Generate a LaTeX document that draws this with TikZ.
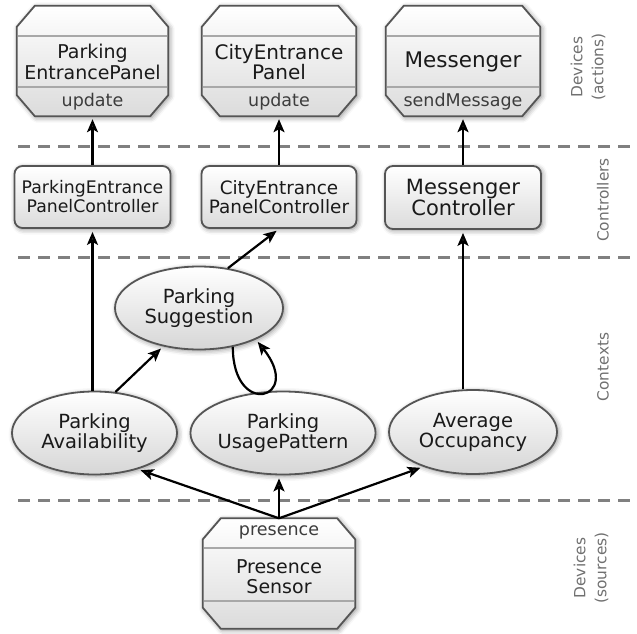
\documentclass[tikz,border=0pt]{standalone}
\usepackage{fontspec}
\setmainfont{DejaVu Sans}
\usetikzlibrary{shapes.geometric,arrows.meta,calc,shadows.blur}
\definecolor{bord}{HTML}{555555}
\definecolor{sepc}{HTML}{A8A8A8}
\definecolor{dashc}{HTML}{808080}
\definecolor{labc}{HTML}{707070}
\definecolor{txtc}{HTML}{1A1A1A}
\tikzset{
  softshadow/.style={blur shadow={shadow xshift=1.5pt, shadow yshift=-1.5pt, shadow blur radius=5pt, shadow opacity=45}},
  shadebox/.style={top color=white, bottom color=black!14, draw=bord, line width=1.8pt, softshadow},
  devnode/.style={inner sep=0pt, minimum width=#1, minimum height=110pt},
  devtitle/.style={inner sep=0pt, text=txtc, align=center, font=\fontsize{19}{20.5}\selectfont},
  devop/.style={inner sep=0pt, text=txtc!85, font=\fontsize{17.5}{18}\selectfont},
  sepline/.style={draw=sepc, line width=1.2pt},
  ctrl/.style={rectangle, rounded corners=8pt, draw=bord, line width=1.8pt, top color=white, bottom color=black!14,
     minimum height=62pt, inner sep=0pt, align=center, text=txtc, softshadow},
  ctx/.style={ellipse, draw=bord, line width=1.8pt, top color=white, bottom color=black!16,
     minimum height=83pt, inner sep=0pt, align=center, text=txtc, font=\fontsize{19.5}{20}\selectfont, softshadow},
  layer/.style={draw=dashc, line width=3pt, dash pattern=on 12pt off 8pt},
  side/.style={rotate=90, text=labc, align=center, font=\fontsize{15.4}{21}\selectfont},
  arr/.style={line width=2.2pt, -{Stealth[length=13pt,width=11pt,inset=3pt]}, shorten >=3pt},
}
\newcommand\octpath[1]{($(#1.north west)+(18,0)$) -- ($(#1.north east)+(-18,0)$) -- ($(#1.north east)+(0,21)$) -- ($(#1.south east)+(0,-21)$) -- ($(#1.south east)+(-18,0)$) -- ($(#1.south west)+(18,0)$) -- ($(#1.south west)+(0,-21)$) -- ($(#1.north west)+(0,21)$) -- cycle}
\begin{document}
\begin{tikzpicture}[x=1pt,y=-1pt]
\useasboundingbox (0,0) rectangle (637,634);

% layer separators
\coordinate (d1a) at (18,146); \coordinate (d1b) at (637,146);
\coordinate (d2a) at (18,257); \coordinate (d2b) at (637,257);
\coordinate (d3a) at (18,500); \coordinate (d3b) at (637,500);
\draw[layer] (d1a) -- (d1b);
\draw[layer] (d2a) -- (d2b);
\draw[layer] (d3a) -- (d3b);

% device frames
\node[devnode=151pt] (pep) at (92.5,61) {};
\node[devnode=154pt] (cep) at (279,61) {};
\node[devnode=154pt] (msg) at (463,61) {};
\node[devnode=152pt] (pres) at (279,573.5) {};
\path[shadebox] \octpath{pep};
\path[shadebox] \octpath{cep};
\path[shadebox] \octpath{msg};
\path[shadebox] \octpath{pres};
\foreach \n in {pep,cep,msg}{
  \draw[sepline] ($(\n.west)+(0.9,-25)$) -- ($(\n.east)+(-0.9,-25)$);
  \draw[sepline] ($(\n.west)+(0.9,26)$) -- ($(\n.east)+(-0.9,26)$);
}
\draw[sepline] ($(pres.west)+(0.9,-25.5)$) -- ($(pres.east)+(-0.9,-25.5)$);
\draw[sepline] ($(pres.west)+(0.9,27.5)$) -- ($(pres.east)+(-0.9,27.5)$);

\node[devtitle] (pept) at ($(pep)+(0,1)$) {Parking\\EntrancePanel};
\node[devtitle, font=\fontsize{20}{20.5}\selectfont] (cept) at ($(cep)+(0,1)$) {CityEntrance\\Panel};
\node[devtitle, font=\fontsize{21.5}{22}\selectfont] (msgt) at ($(msg)+(0,1)$) {Messenger};
\node[devtitle] (prest) at ($(pres)+(0,3)$) {Presence\\Sensor};
\node[devop] (pepo) at ($(pep.south)+(0,-14.5)$) {update};
\node[devop] (cepo) at ($(cep.south)+(0,-14.5)$) {update};
\node[devop] (msgo) at ($(msg.south)+(0,-14.5)$) {sendMessage};
\node[devop] (preso) at ($(pres.north)+(0,14.5)$) {presence};

% controllers
\node[ctrl, minimum width=156pt, font=\fontsize{17.3}{19}\selectfont] (ppc) at (92.5,197) {ParkingEntrance\\PanelController};
\node[ctrl, minimum width=155pt, font=\fontsize{18.4}{19}\selectfont] (cpc) at (279,197) {CityEntrance\\PanelController};
\node[ctrl, minimum width=156pt, minimum height=63pt, font=\fontsize{21}{20.5}\selectfont] (mc) at (463,197.5) {Messenger\\Controller};

% contexts
\node[ctx, minimum width=168pt] (ps) at (199,308) {Parking\\Suggestion};
\node[ctx, minimum width=165pt] (pa) at (94.5,433) {Parking\\Availability};
\node[ctx, minimum width=167pt] (pup) at (283,433) {Parking\\UsagePattern};
\node[ctx, minimum width=168pt, minimum height=84pt] (ao) at (473,432) {Average\\Occupancy};

% side labels
\node[side] (l1) at (588,67) {Devices\\(actions)};
\node[side] (l2) at (603,200) {Controllers};
\node[side] (l3) at (603,367) {Contexts};
\node[side] (l4) at (591,568) {Devices\\(sources)};

% connectors
\draw[arr] (ppc.north) -- (pep.south);
\draw[arr] (cpc.north) -- (cep.south);
\draw[arr] (mc.north) -- (msg.south);
\draw[arr] (ppc.south |- pa.north) -- (ppc.south);
\draw[arr] (ps.54) -- (cpc.south);
\draw[arr] (mc.south |- ao.north) -- (mc.south);
\draw[arr] (pa.63) -- (ps.227);
\draw[arr] (ps.311) .. controls +(0,72) and +(48,60) .. (ps.331);
\draw[arr] (pres.north) -- (pa.-40);
\draw[arr] (pres.north) -- (pres.north |- pup.south);
\draw[arr] (pres.north) -- (ao.215);
\end{tikzpicture}
\end{document}
